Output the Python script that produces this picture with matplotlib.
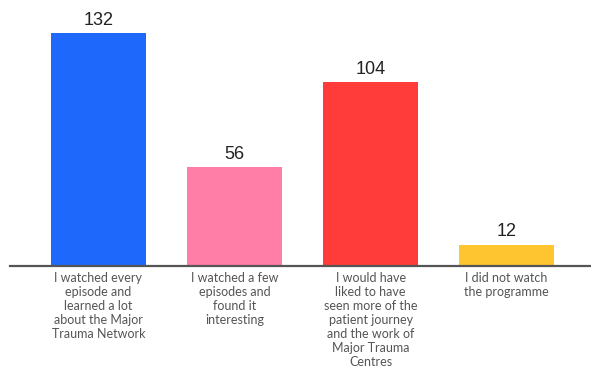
import matplotlib
matplotlib.use("Agg")
import matplotlib.pyplot as plt

categories = [
    "I watched every\nepisode and\nlearned a lot\nabout the Major\nTrauma Network",
    "I watched a few\nepisodes and\nfound it\ninteresting",
    "I would have\nliked to have\nseen more of the\npatient journey\nand the work of\nMajor Trauma\nCentres",
    "I did not watch\nthe programme",
]
values = [132, 56, 104, 12]
colors = ["#1E69FC", "#FF7EA7", "#FF3C3A", "#FFC531"]

W, H = 591, 368
fig = plt.figure(figsize=(W / 100, H / 100), dpi=100)
ax = fig.add_axes([10 / W, (H - 266) / H, 1 - 10 / W, (266 - 33) / H])

x = list(range(len(values)))
ax.bar(x, values, width=0.7, color=colors, zorder=2)
ax.set_xlim(-0.65, 3.62)
ax.set_ylim(0, 132)

for xi, v in zip(x, values):
    ax.text(xi, v + 2.5, str(v), ha="center", va="bottom", fontsize=13,
            family="Liberation Sans", color="#222222")

for xi, c in zip(x, categories):
    ax.annotate(c, xy=(xi, 0), xytext=(0, -4), textcoords="offset points",
                ha="center", va="top", fontsize=9, family="Lato",
                color="#555555", linespacing=1.2, annotation_clip=False)

for s in ["top", "right", "left"]:
    ax.spines[s].set_visible(False)
ax.spines["bottom"].set_color("#555555")
ax.spines["bottom"].set_linewidth(1.6)
ax.spines["bottom"].set_zorder(3)
ax.set_xticks([])
ax.set_yticks([])
ax.patch.set_visible(False)

fig.savefig("out.png", dpi=100)
